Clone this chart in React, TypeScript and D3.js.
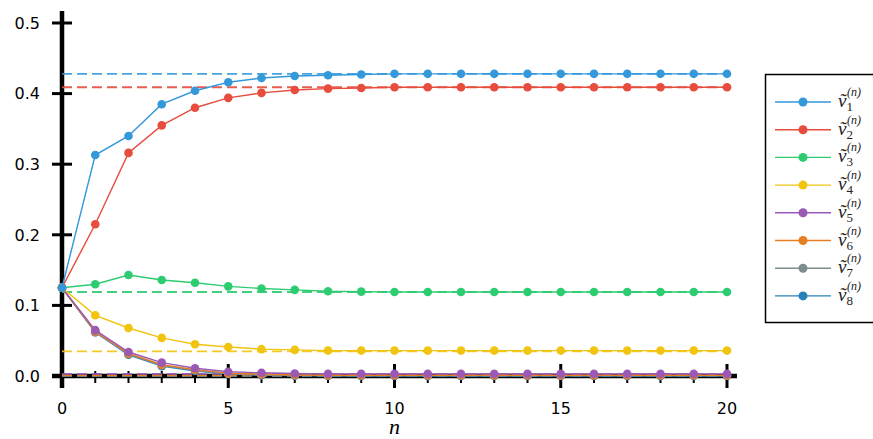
import React from "react";
import * as d3 from "d3";

const steps = d3.range(0, 21);
const v1 = [0.125, 0.313, 0.340, 0.385, 0.404, 0.416, 0.422, 0.425, 0.426, 0.427, 0.428, 0.428, 0.428, 0.428, 0.428, 0.428, 0.428, 0.428, 0.428, 0.428, 0.428];
const v2 = [0.125, 0.215, 0.316, 0.355, 0.380, 0.394, 0.401, 0.405, 0.407, 0.408, 0.409, 0.409, 0.409, 0.409, 0.409, 0.409, 0.409, 0.409, 0.409, 0.409, 0.409];
const v3 = [0.125, 0.130, 0.143, 0.136, 0.132, 0.127, 0.124, 0.122, 0.120, 0.1195, 0.119, 0.119, 0.119, 0.119, 0.119, 0.119, 0.119, 0.119, 0.119, 0.119, 0.119];
const v4 = [0.125, 0.086, 0.068, 0.054, 0.045, 0.041, 0.038, 0.037, 0.036, 0.036, 0.036, 0.036, 0.036, 0.036, 0.036, 0.036, 0.036, 0.036, 0.036, 0.036, 0.036];
const v5 = [0.125, 0.065, 0.034, 0.019, 0.011, 0.006, 0.0045, 0.0035, 0.003, 0.003, 0.003, 0.003, 0.003, 0.003, 0.003, 0.003, 0.003, 0.003, 0.003, 0.003, 0.003];
const v6 = [0.125, 0.063, 0.032, 0.016, 0.009, 0.004, 0.0025, 0.0015, 0.001, 0.001, 0.001, 0.001, 0.001, 0.001, 0.001, 0.001, 0.001, 0.001, 0.001, 0.001, 0.001];
const v7 = [0.125, 0.062, 0.031, 0.015, 0.008, 0.003, 0.0015, 0.001, 0.0005, 0.0005, 0.0005, 0.0005, 0.0005, 0.0005, 0.0005, 0.0005, 0.0005, 0.0005, 0.0005, 0.0005, 0.0005];
const v8 = [0.125, 0.062, 0.030, 0.014, 0.007, 0.003, 0.001, 0.0005, 0.0002, 0, 0, 0, 0, 0, 0, 0, 0, 0, 0, 0, 0];
const equilibrium = [0.428, 0.409, 0.119, 0.035, 0.003, 0.001, 0.0005, 0];
const seriesValues = [v1, v2, v3, v4, v5, v6, v7, v8];
const seriesIndices = ["1", "2", "3", "4", "5", "6", "7", "8"];
const colors = ["#3498db", "#e74c3c", "#2ecc71", "#f1c40f", "#9b59b6", "#e67e22", "#7f8c8d", "#2980b9"];
const yTicks = [0, 0.1, 0.2, 0.3, 0.4, 0.5];
const xTicks = [0, 5, 10, 15, 20];

export default function App() {
  const W = 873, H = 439;
  const x = d3.scaleLinear().domain([0, 20]).range([62, 727]);
  const y = d3.scaleLinear().domain([0, 0.5]).range([376, 23]);
  const line = d3.line<number>().x((_, i) => x(steps[i])).y((d) => y(d));
  const tickFont = "'DejaVu Sans', sans-serif";
  const mathFont = "'Liberation Serif', 'DejaVu Serif', serif";
  const order = d3.range(seriesValues.length).reverse();
  const legendX = 775, legendY0 = 102, legendDy = 27.7;
  return (
    <svg width={W} height={H} style={{ position: "absolute", left: 0, top: 0 }}>
      <rect width={W} height={H} fill="white" />
      {/* axes */}
      <line x1={x(0)} x2={x(0)} y1={y(-0.017)} y2={y(0.517)} stroke="black" strokeWidth={4.5} />
      <line x1={x(-0.3)} x2={x(20.3)} y1={y(0)} y2={y(0)} stroke="black" strokeWidth={4.5} />
      {yTicks.map((t) => (
        <g key={"y" + t}>
          <line x1={x(0) - 10} x2={x(0) + 10} y1={y(t)} y2={y(t)} stroke="black" strokeWidth={3} />
          <text x={x(0) - 22} y={y(t)} dy="0.36em" textAnchor="end" fontFamily={tickFont} fontSize={16}>{t.toFixed(1)}</text>
        </g>
      ))}
      {steps.map((s) => (
        <line key={"mx" + s} x1={x(s)} x2={x(s)} y1={y(0) - 5} y2={y(0) + 7} stroke="black" strokeWidth={2} />
      ))}
      {xTicks.map((t) => (
        <g key={"x" + t}>
          <line x1={x(t)} x2={x(t)} y1={y(0) - 12} y2={y(0) + 12} stroke="black" strokeWidth={3} />
          <text x={x(t)} y={408} dy="0.36em" textAnchor="middle" fontFamily={tickFont} fontSize={16}>{t}</text>
        </g>
      ))}
      <text x={(x(0) + x(20)) / 2} y={434} textAnchor="middle" fontFamily={mathFont} fontStyle="italic" fontSize={22}>n</text>
      {/* equilibrium dashed lines */}
      {order.map((k) => (
        <line key={"eq" + k} x1={x(0)} x2={x(20)} y1={y(equilibrium[k])} y2={y(equilibrium[k])} stroke={colors[k]} strokeWidth={1.8} strokeDasharray="10 5" opacity={0.9} />
      ))}
      {/* series */}
      {order.map((k) => (
        <g key={"s" + k}>
          <path d={line(seriesValues[k]) || ""} fill="none" stroke={colors[k]} strokeWidth={1.4} />
          {seriesValues[k].map((v, i) => (
            <circle key={i} cx={x(steps[i])} cy={y(v)} r={4.3} fill={colors[k]} />
          ))}
        </g>
      ))}
      {/* legend */}
      <rect x={765.5} y={74.5} width={120} height={248} fill="white" stroke="black" strokeWidth={1.5} />
      {seriesIndices.map((s, k) => {
        const cy = legendY0 + k * legendDy;
        return (
          <g key={"lg" + k}>
            <line x1={legendX} x2={legendX + 56} y1={cy} y2={cy} stroke={colors[k]} strokeWidth={1.4} />
            <circle cx={legendX + 28} cy={cy} r={4.5} fill={colors[k]} />
            <text x={legendX + 63} y={cy + 5} fontFamily={mathFont} fontSize={19} fill="#222">
              <tspan fontStyle="italic">{"ṽ"}</tspan>
              <tspan fontSize={13} dy={4}>{s}</tspan>
              <tspan fontSize={12} dx={-6} dy={-15} fontStyle="italic">{"(n)"}</tspan>
            </text>
          </g>
        );
      })}
    </svg>
  );
}
